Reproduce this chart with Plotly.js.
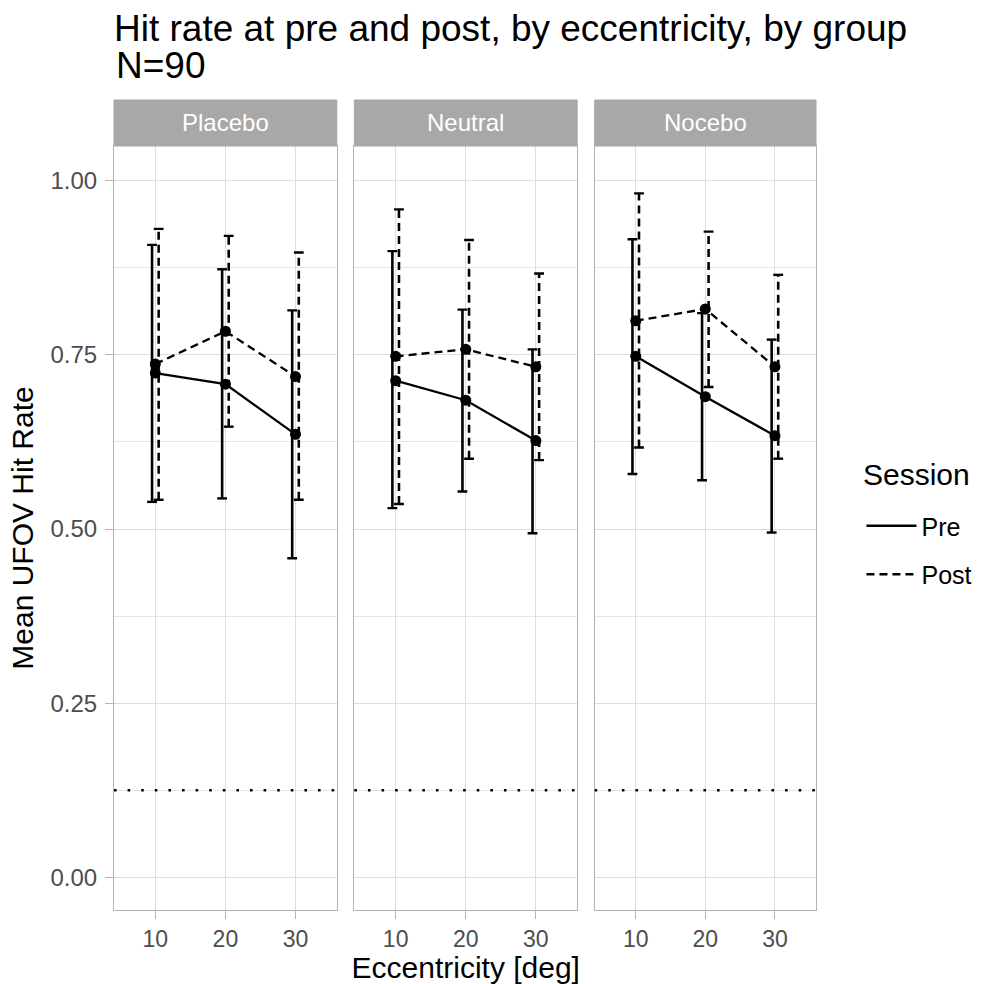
<!DOCTYPE html>
<html>
<head>
<meta charset="utf-8">
<script src="https://cdn.plot.ly/plotly-3.0.1.min.js"></script>
<style>html,body{margin:0;padding:0;background:#fff;}#chart{width:989px;height:984px;}</style>
</head>
<body>
<div id="chart"></div>
<script>
// ---- data ----
const groups = ['Placebo', 'Neutral', 'Nocebo'];
const sessions = ['Pre', 'Post'];
const eccentricity = [10, 20, 30];
const chanceLevel = 0.125;

const placeboPreMean  = [0.724, 0.708, 0.636];
const placeboPreLow   = [0.539, 0.544, 0.458];
const placeboPreHigh  = [0.908, 0.873, 0.814];
const placeboPostMean = [0.737, 0.784, 0.719];
const placeboPostLow  = [0.542, 0.647, 0.542];
const placeboPostHigh = [0.931, 0.921, 0.897];

const neutralPreMean  = [0.713, 0.685, 0.627];
const neutralPreLow   = [0.530, 0.554, 0.494];
const neutralPreHigh  = [0.899, 0.815, 0.758];
const neutralPostMean = [0.748, 0.758, 0.733];
const neutralPostLow  = [0.536, 0.601, 0.599];
const neutralPostHigh = [0.959, 0.915, 0.867];

const noceboPreMean  = [0.748, 0.690, 0.634];
const noceboPreLow   = [0.579, 0.570, 0.495];
const noceboPreHigh  = [0.916, 0.810, 0.772];
const noceboPostMean = [0.799, 0.816, 0.733];
const noceboPostLow  = [0.617, 0.704, 0.601];
const noceboPostHigh = [0.982, 0.927, 0.865];

const seriesTable = {
  Placebo: {Pre: [placeboPreMean, placeboPreLow, placeboPreHigh], Post: [placeboPostMean, placeboPostLow, placeboPostHigh]},
  Neutral: {Pre: [neutralPreMean, neutralPreLow, neutralPreHigh], Post: [neutralPostMean, neutralPostLow, neutralPostHigh]},
  Nocebo:  {Pre: [noceboPreMean, noceboPreLow, noceboPreHigh],   Post: [noceboPostMean, noceboPostLow, noceboPostHigh]}
};

// ---- styling ----
const FONT = 'Liberation Sans, Arial, Helvetica, sans-serif';
const dashFor = {Pre: 'solid', Post: '8px,5px'};
const dodge = {Pre: -0.47, Post: 0.47};
const W = 989, H = 984;
const L = 114, R = 816.5, T = 146, B = 910;
const pw = R - L, ph = B - T;
const panelW = 223, gap = 17.5;

const traces = [];
const errTraces = [], lineTraces = [], ptTraces = [];
groups.forEach((g, gi) => {
  const xa = gi === 0 ? 'x' : 'x' + (gi + 1);
  const ya = gi === 0 ? 'y' : 'y' + (gi + 1);
  sessions.forEach(s => {
    const [m, lo, hi] = seriesTable[g][s];
    const ex = [], ey = [];
    eccentricity.forEach((e, i) => {
      ex.push(e + dodge[s], e + dodge[s], null);
      ey.push(lo[i], hi[i], null);
    });
    errTraces.push({
      x: ex, y: ey, xaxis: xa, yaxis: ya, type: 'scatter', mode: 'lines+markers',
      line: {color: '#000', width: 2.6, dash: dashFor[s]},
      marker: {symbol: 'line-ew', size: 7, color: '#000', line: {color: '#000', width: 2.4}},
      showlegend: false, hoverinfo: 'skip'
    });
    lineTraces.push({
      x: eccentricity, y: m, xaxis: xa, yaxis: ya, type: 'scatter', mode: 'lines',
      line: {color: '#000', width: 2.3, dash: dashFor[s]},
      name: s, legendgroup: s, showlegend: gi === 0
    });
    ptTraces.push({
      x: eccentricity, y: m, xaxis: xa, yaxis: ya, type: 'scatter', mode: 'markers',
      marker: {color: '#000', size: 11}, showlegend: false, hoverinfo: 'skip'
    });
  });
});
traces.push(...errTraces, ...lineTraces, ...ptTraces);

const layout = {
  width: W, height: H,
  margin: {l: L, r: W - R, t: T, b: H - B, pad: 0},
  paper_bgcolor: '#fff', plot_bgcolor: '#fff',
  font: {family: FONT, color: '#000'},
  title: {
    text: 'Hit rate at pre and post, by eccentricity, by group',
    font: {size: 37, family: FONT, color: '#000'},
    x: 0, xref: 'paper', xanchor: 'left',
    y: 1 - 28 / H, yref: 'container', yanchor: 'middle'
  },
  showlegend: true,
  legend: {
    x: (862 - L) / pw, xanchor: 'left', xref: 'paper',
    y: (B - 503) / ph, yanchor: 'top', yref: 'paper',
    font: {size: 25, family: FONT, color: '#000'},
    itemwidth: 50,
    tracegroupgap: 13, bgcolor: 'rgba(0,0,0,0)'
  },
  shapes: [],
  annotations: [{
    text: 'N=90', xref: 'paper', yref: 'paper', x: 0, xanchor: 'left',
    y: (B - 66) / ph, yanchor: 'middle', showarrow: false,
    font: {size: 37, family: FONT, color: '#000'}
  }, {
    text: 'Session', xref: 'paper', yref: 'paper', x: (862 - L) / pw, xanchor: 'left',
    y: (B - 474) / ph, yanchor: 'middle', showarrow: false,
    font: {size: 30, family: FONT, color: '#000'}
  }]
};

const axisCommon = {
  showline: true, mirror: true, linecolor: '#b3b3b3', linewidth: 1.2,
  gridcolor: '#dedede', gridwidth: 1.1, zeroline: false,
  ticks: 'outside', ticklen: 8, tickcolor: '#b3b3b3', tickwidth: 1.1,
  tickfont: {size: 24, family: FONT, color: '#4d4d4d'}
};

groups.forEach((g, gi) => {
  const suf = gi === 0 ? '' : String(gi + 1);
  const x0 = (gi * (panelW + gap)) / pw;
  const x1 = Math.min((gi * (panelW + gap) + panelW) / pw, 1);
  layout['xaxis' + suf] = Object.assign({}, axisCommon, {
    domain: [x0, x1], range: [4.1, 35.9], anchor: 'y' + suf,
    tickvals: eccentricity, ticktext: eccentricity.map(String),
    tickfont: {size: 23, family: FONT, color: '#4d4d4d'},
    ticklabelstandoff: 0
  });
  layout['yaxis' + suf] = Object.assign({}, axisCommon, {
    domain: [0, 1], range: [-0.047, 1.05], anchor: 'x' + suf,
    tickvals: [0, 0.25, 0.5, 0.75, 1.0], ticktext: ['0.00', '0.25', '0.50', '0.75', '1.00'],
    minor: {tickvals: [0.125, 0.375, 0.625, 0.875], showgrid: true, gridcolor: '#e6e6e6', gridwidth: 0.7, ticks: ''},
    showticklabels: gi === 0, ticks: gi === 0 ? 'outside' : '',
    ticklabelstandoff: 3
  });
  if (gi > 0) layout['yaxis' + suf].matches = 'y';
  // chance level
  layout.shapes.push({
    type: 'line', xref: 'x' + suf + ' domain', yref: 'y' + suf,
    x0: 0, x1: 1, y0: chanceLevel, y1: chanceLevel,
    line: {color: '#000', width: 2.6, dash: '2.6px,11px'}, layer: 'above'
  });
  // strip
  layout.shapes.push({
    type: 'rect', xref: 'paper', yref: 'paper',
    x0: x0, x1: x1, y0: 1, y1: 1 + 46 / ph,
    fillcolor: '#a8a8a8', line: {color: '#a8a8a8', width: 1}
  });
  layout.annotations.push({
    xref: 'paper', yref: 'paper', x: (x0 + x1) / 2, y: 1 + 23 / ph,
    text: g, showarrow: false, xanchor: 'center', yanchor: 'middle',
    font: {size: 24, family: FONT, color: '#ffffff'}
  });
});

layout.xaxis2.title = {text: 'Eccentricity [deg]', font: {size: 30, family: FONT, color: '#000'}, standoff: 7};
layout.yaxis.title = {text: 'Mean UFOV Hit Rate', font: {size: 30, family: FONT, color: '#000'}, standoff: 7};

Plotly.newPlot('chart', traces, layout, {displayModeBar: false, responsive: false});
</script>
</body>
</html>
